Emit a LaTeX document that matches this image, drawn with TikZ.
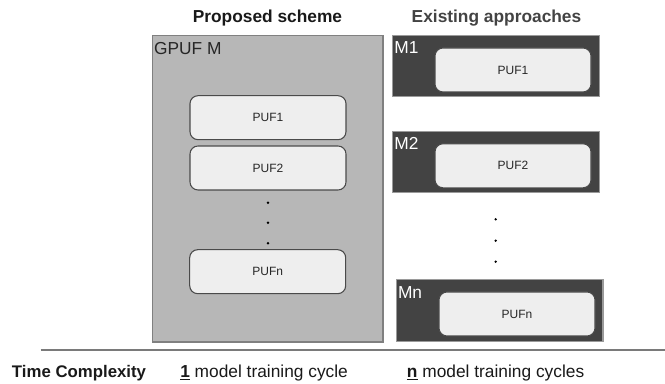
\documentclass[tikz,border=0pt]{standalone}
\usepackage{fontspec}
\setmainfont{Liberation Sans}
\usepackage{xcolor}
\definecolor{gpufgray}{HTML}{B7B7B7}
\definecolor{gpufedge}{HTML}{808080}
\definecolor{modeldark}{HTML}{434343}
\definecolor{modeledge}{HTML}{9A9A9A}
\definecolor{puffill}{HTML}{EEEEEE}
\definecolor{pufedge}{HTML}{4A4A4A}
\definecolor{rulegray}{HTML}{7A7A7A}

\begin{document}
\begin{tikzpicture}[x=0.75pt, y=-0.75pt]
  \tikzstyle{myline}=[line cap=round, line join=round];
  \useasboundingbox (0, 0) rectangle (665, 384);
  %
  % titles
  \tikzstyle{title}=[font=\fontsize{13}{15}\selectfont\bfseries, inner sep=0pt, anchor=base];
  \node[title, text=black!90] (propTitle) at (267.5, 22.3) {Proposed scheme};
  \node[title, text=modeldark] (existTitle) at (496.5, 22.3) {Existing approaches};
  %
  % box styles
  \tikzstyle{puf}=[myline, draw=pufedge, fill=puffill, line width=0.8pt,
    rounded corners=6pt, minimum width=117pt, minimum height=33pt,
    font=\fontsize{9}{11}\selectfont, text=black!85];
  \tikzstyle{mlabel}=[anchor=north west, inner xsep=1.5pt, inner ysep=5pt,
    font=\fontsize{13}{15}\selectfont];
  \tikzstyle{dot}=[circle, fill=black, inner sep=0pt, minimum size=2pt];
  %
  % proposed scheme
  \node[draw=gpufedge, fill=gpufgray, line width=0.9pt, minimum width=172.9pt,
    minimum height=229.7pt] (gpuf) at (267.75, 188.9) {};
  \node[mlabel, text=black!85] (gpufName) at (gpuf.north west) {GPUF M};
  \node[puf] (gpufA) at (268, 117.7) {PUF1};
  \node[puf] (gpufB) at (268, 168) {PUF2};
  \node[dot] (gpufDotA) at (268, 202.7) {};
  \node[dot] (gpufDotB) at (268, 222.7) {};
  \node[dot] (gpufDotC) at (268, 243.3) {};
  \node[puf] (gpufN) at (267.7, 271.7) {PUFn};
  %
  % existing approaches
  \tikzstyle{model}=[draw=modeledge, fill=modeldark, line width=0.9pt,
    minimum width=155pt, minimum height=46pt];
  \node[model] (mA) at (496, 66.2) {};
  \node[mlabel, text=white] (mAName) at (mA.north west) {M1};
  \node[puf] (mApuf) at (513, 70) {PUF1};
  %
  \node[model] (mB) at (496, 162.2) {};
  \node[mlabel, text=white] (mBName) at (mB.north west) {M2};
  \node[puf] (mBpuf) at (513, 165.8) {PUF2};
  %
  \node[dot] (mDotA) at (495.7, 219.3) {};
  \node[dot] (mDotB) at (495.7, 240.7) {};
  \node[dot] (mDotC) at (495.7, 261.7) {};
  %
  \node[model] (mN) at (499.7, 310.5) {};
  \node[mlabel, text=white] (mNName) at (mN.north west) {Mn};
  \node[puf] (mNpuf) at (517, 314) {PUFn};
  %
  % separator and time complexity row
  \coordinate (ruleL) at (40.7, 350.5);
  \coordinate (ruleR) at (665, 350.5);
  \draw[rulegray, line width=1.5pt] (ruleL) -- (ruleR);
  \tikzstyle{row}=[anchor=base west, inner sep=0pt, font=\fontsize{13}{15}\selectfont, text=black!90];
  \node[row, font=\fontsize{12.6}{15}\selectfont\bfseries] (tcName) at (11.7, 377.7) {Time Complexity};
  \node[row] (tcProp) at (180, 377.7) {\underline{\textbf{1}} model training cycle};
  \node[row] (tcExist) at (406.7, 377.7) {\underline{\textbf{n}} model training cycles};
\end{tikzpicture}
\end{document}
